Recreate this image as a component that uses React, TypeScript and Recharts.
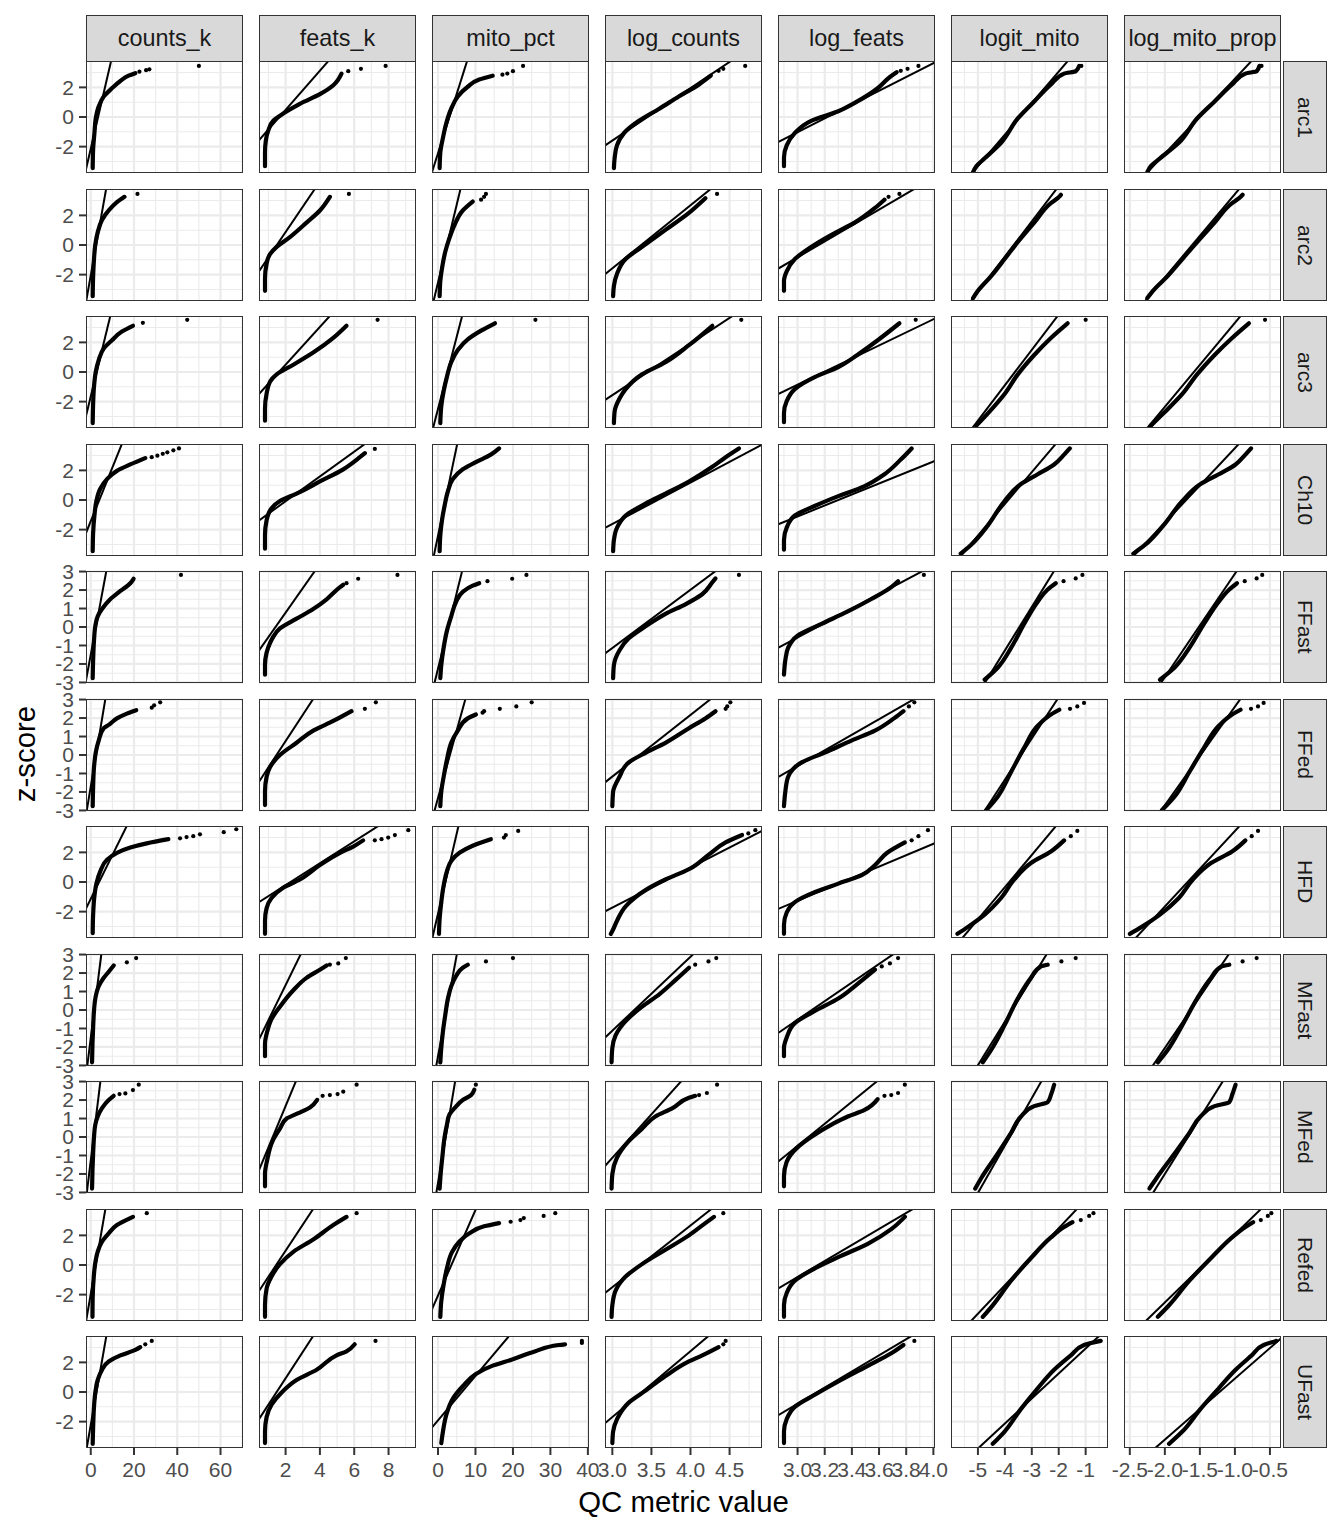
import React from "react";
import { ComposedChart, Line, Scatter, XAxis, YAxis, CartesianGrid } from "recharts";

type Pt = [number, number];
type Panel = { pts: Pt[]; out: Pt[]; qq: [number, number] };

const samples = ["arc1", "arc2", "arc3", "Ch10", "FFast", "FFed", "HFD", "MFast", "MFed", "Refed", "UFast"];
const metrics = ["counts_k", "feats_k", "mito_pct", "log_counts", "log_feats", "logit_mito", "log_mito_prop"];
// samples whose z axis is labelled -3..3 by 1
const narrowRows = ["FFast", "FFed", "MFast", "MFed"];

const zTicksWide = [-2, 0, 2];
const zMinorWide = [-3, -1, 1, 3];
const zDomainWide: [number, number] = [-3.78, 3.78];
const zTicksNarrow = [-3, -2, -1, 0, 1, 2, 3];
const zMinorNarrow = [-2.5, -1.5, -0.5, 0.5, 1.5, 2.5];
const zDomainNarrow: [number, number] = [-3.03, 3.03];

const countsKTicks = [0, 20, 40, 60];
const countsKMinor = [10, 30, 50, 70];
const featsKTicks = [2, 4, 6, 8];
const featsKMinor = [1, 3, 5, 7, 9];
const mitoPctTicks = [0, 10, 20, 30, 40];
const mitoPctMinor = [5, 15, 25, 35];
const logCountsTicks = [3, 3.5, 4, 4.5];
const logCountsMinor = [3.25, 3.75, 4.25, 4.75];
const logFeatsTicks = [3, 3.2, 3.4, 3.6, 3.8, 4];
const logFeatsMinor = [2.9, 3.1, 3.3, 3.5, 3.7, 3.9];
const logitMitoTicks = [-5, -4, -3, -2, -1];
const logitMitoMinor = [-5.5, -4.5, -3.5, -2.5, -1.5, -0.5];
const logMitoPropTicks = [-2.5, -2, -1.5, -1, -0.5];
const logMitoPropMinor = [-2.25, -1.75, -1.25, -0.75];

// one entry per sample, in the order of `samples`
const countsK: Panel[] = [
  { pts: [[0.9, -3.45], [1.1, -2.17], [1.7, -1.08], [2.3, -0.1], [3.7, 0.72], [6.0, 1.38], [9.8, 1.94], [13.7, 2.43], [17.5, 2.79], [20.6, 2.96]], out: [[22.5, 3.06], [25.6, 3.16], [27.1, 3.22], [50.0, 3.45]], qq: [-2.95, 9.75] },
  { pts: [[0.9, -3.45], [1.1, -2.1], [1.5, -0.95], [2.1, 0.03], [3.2, 0.85], [5.2, 1.68], [8.3, 2.33], [12.1, 2.89], [15.6, 3.25]], out: [[21.6, 3.45]], qq: [-2.37, 7.37] },
  { pts: [[0.9, -3.45], [1.1, -2.14], [1.5, -0.99], [2.3, 0.0], [3.7, 0.82], [6.0, 1.58], [9.8, 2.14], [14.4, 2.73], [19.5, 3.12]], out: [[24.1, 3.32], [44.6, 3.52]], qq: [-3.9, 9.4] },
  { pts: [[0.9, -3.45], [1.1, -2.2], [1.7, -1.05], [2.6, -0.07], [4.4, 0.76], [7.5, 1.41], [12.1, 1.97], [18.3, 2.4], [25.2, 2.83]], out: [[28.2, 2.89], [30.8, 2.99], [33.3, 3.12], [35.4, 3.22], [38.2, 3.35], [40.8, 3.48]], qq: [-7.1, 15.0] },
  { pts: [[0.9, -2.77], [1.1, -1.79], [1.5, -0.74], [2.1, 0.05], [3.2, 0.58], [5.2, 0.97], [9.0, 1.5], [13.7, 1.95], [18.3, 2.37], [19.8, 2.61]], out: [[41.7, 2.82]], qq: [-3.98, 8.74] },
  { pts: [[0.9, -2.77], [1.1, -1.71], [1.5, -0.66], [2.3, 0.13], [3.7, 0.79], [6.0, 1.45], [8.3, 1.63], [12.1, 1.98], [16.7, 2.24], [21.0, 2.42]], out: [[28.2, 2.56], [29.3, 2.69], [32.1, 2.85]], qq: [-3.27, 8.13] },
  { pts: [[0.9, -3.45], [1.1, -2.2], [1.7, -0.94], [2.6, -0.11], [4.4, 0.72], [7.5, 1.5], [12.1, 1.97], [18.3, 2.33], [25.9, 2.61], [35.9, 2.89]], out: [[41.3, 2.95], [44.3, 3.03], [47.4, 3.09], [50.5, 3.22], [61.5, 3.36], [67.3, 3.56]], qq: [-9.7, 17.4] },
  { pts: [[0.6, -2.83], [0.8, -1.83], [1.1, -0.94], [1.5, -0.04], [2.1, 0.62], [3.7, 1.29], [6.0, 1.74], [8.3, 2.07], [10.6, 2.41]], out: [[16.7, 2.58], [21.0, 2.81]], qq: [-2.66, 5.94] },
  { pts: [[0.6, -2.79], [0.8, -1.78], [1.1, -0.89], [1.5, 0.0], [2.1, 0.67], [3.2, 1.11], [5.2, 1.56], [8.3, 2.0], [10.6, 2.23]], out: [[13.3, 2.32], [16.0, 2.36], [19.5, 2.54], [22.2, 2.83]], qq: [-2.84, 5.48] },
  { pts: [[0.8, -3.5], [0.9, -2.17], [1.4, -0.78], [2.0, 0.06], [3.2, 0.89], [5.2, 1.58], [8.3, 2.14], [12.1, 2.7], [18.3, 3.17], [19.5, 3.25]], out: [[25.9, 3.5]], qq: [-2.41, 7.03] },
  { pts: [[0.9, -3.5], [1.1, -2.39], [1.5, -1.0], [2.1, -0.03], [3.2, 0.81], [5.2, 1.5], [8.3, 2.06], [13.7, 2.47], [20.6, 2.84], [22.9, 3.03]], out: [[25.2, 3.22], [28.2, 3.45]], qq: [-2.13, 7.47] },
];

const featsK: Panel[] = [
  { pts: [[0.8, -3.32], [0.8, -2.4], [0.85, -1.58], [0.99, -0.92], [1.28, -0.26], [1.86, 0.23], [2.83, 0.89], [4.0, 1.54], [4.78, 2.14], [5.05, 2.5], [5.26, 2.93]], out: [[5.65, 3.09], [6.39, 3.25], [7.83, 3.45]], qq: [-1.38, 4.66] },
  { pts: [[0.8, -3.09], [0.8, -2.27], [0.89, -1.28], [1.09, -0.62], [1.48, -0.13], [2.25, 0.53], [3.22, 1.51], [4.0, 2.33], [4.58, 3.25]], out: [[5.69, 3.45]], qq: [-0.85, 3.83] },
  { pts: [[0.8, -3.29], [0.8, -2.47], [0.89, -1.48], [1.09, -0.66], [1.48, -0.16], [2.45, 0.49], [3.61, 1.31], [4.78, 2.3], [5.55, 3.12]], out: [[7.36, 3.52]], qq: [-1.53, 4.75] },
  { pts: [[0.8, -3.29], [0.8, -2.37], [0.89, -1.38], [1.18, -0.56], [1.67, -0.07], [2.64, 0.43], [4.0, 1.25], [5.36, 2.07], [6.33, 2.89], [6.62, 3.16]], out: [[7.2, 3.45]], qq: [-2.68, 6.88] },
  { pts: [[0.8, -2.58], [0.8, -2.06], [0.89, -1.4], [1.09, -0.87], [1.3, -0.5], [1.67, -0.08], [2.64, 0.45], [3.61, 0.97], [4.39, 1.5], [5.17, 2.16], [5.36, 2.29]], out: [[5.55, 2.37], [6.23, 2.61], [8.52, 2.82]], qq: [-1.62, 4.44] },
  { pts: [[0.8, -2.71], [0.8, -1.98], [0.89, -1.19], [1.09, -0.66], [1.67, 0.0], [2.64, 0.66], [3.61, 1.32], [4.78, 1.84], [5.84, 2.37]], out: [[6.62, 2.5], [7.26, 2.85]], qq: [-1.35, 4.29] },
  { pts: [[0.8, -3.5], [0.8, -2.61], [0.89, -1.78], [1.18, -1.08], [1.86, -0.39], [2.83, 0.17], [4.0, 1.14], [5.17, 1.97], [5.94, 2.39], [6.52, 2.81]], out: [[7.2, 2.81], [7.59, 2.89], [7.98, 3.0], [8.37, 3.17], [9.15, 3.5]], qq: [-3.12, 7.7] },
  { pts: [[0.8, -2.5], [0.8, -1.83], [0.93, -1.16], [1.18, -0.49], [1.67, 0.18], [2.45, 1.07], [3.22, 1.74], [4.0, 2.18], [4.39, 2.41]], out: [[4.58, 2.45], [5.07, 2.52], [5.51, 2.81]], qq: [-0.82, 3.4] },
  { pts: [[0.8, -2.67], [0.8, -2.0], [0.93, -1.23], [1.24, -0.22], [1.67, 0.45], [2.06, 1.0], [2.74, 1.29], [3.42, 1.6], [3.84, 2.01]], out: [[4.16, 2.23], [4.58, 2.27], [5.03, 2.32], [5.36, 2.45], [6.14, 2.83]], qq: [-0.54, 3.04] },
  { pts: [[0.8, -3.5], [0.8, -2.72], [0.89, -1.61], [1.18, -0.78], [1.67, 0.06], [2.45, 0.89], [3.61, 1.72], [4.78, 2.7], [5.55, 3.25]], out: [[6.14, 3.5]], qq: [-0.83, 3.73] },
  { pts: [[0.8, -3.45], [0.8, -2.67], [0.89, -1.7], [1.18, -0.86], [1.77, -0.03], [2.64, 0.81], [3.81, 1.5], [4.97, 2.47], [5.55, 2.75], [6.03, 3.22]], out: [[7.24, 3.45]], qq: [-0.77, 3.73] },
];

const mitoPct: Panel[] = [
  { pts: [[0.44, -3.45], [0.62, -2.4], [1.32, -1.41], [2.2, -0.42], [3.53, 0.56], [5.29, 1.38], [7.94, 2.04], [11.0, 2.53], [14.6, 2.79]], out: [[17.2, 2.86], [18.5, 2.93], [20.0, 3.09], [22.7, 3.45]], qq: [-1.94, 8.04] },
  { pts: [[0.44, -3.45], [0.62, -2.43], [1.15, -1.45], [1.94, -0.46], [2.91, 0.36], [4.41, 1.35], [6.61, 2.33], [9.26, 2.93]], out: [[11.5, 3.06], [12.3, 3.25], [12.8, 3.45]], qq: [-1.39, 6.21] },
  { pts: [[0.62, -3.45], [0.88, -2.3], [1.5, -1.31], [2.38, -0.33], [3.53, 0.66], [5.29, 1.48], [7.94, 2.2], [11.5, 2.79], [15.2, 3.29]], out: [[26.0, 3.52]], qq: [-1.54, 6.66] },
  { pts: [[0.44, -3.45], [0.62, -2.37], [1.06, -1.38], [1.76, -0.39], [2.65, 0.59], [3.97, 1.41], [6.61, 2.07], [10.1, 2.56], [14.1, 3.06], [16.3, 3.48]], out: [], qq: [-1.31, 5.31] },
  { pts: [[0.62, -2.77], [0.88, -2.06], [1.5, -1.13], [2.38, -0.21], [3.53, 0.58], [4.85, 1.37], [6.61, 1.9], [9.26, 2.24], [11.0, 2.37]], out: [[13.2, 2.48], [19.8, 2.61], [23.6, 2.82]], qq: [-2.12, 7.62] },
  { pts: [[0.62, -2.77], [0.88, -1.98], [1.5, -1.19], [2.38, -0.26], [3.53, 0.66], [5.29, 1.32], [7.94, 1.98], [10.1, 2.19]], out: [[11.9, 2.29], [12.3, 2.37], [16.5, 2.5], [20.9, 2.63], [25.0, 2.85]], qq: [-2.28, 8.64] },
  { pts: [[0.26, -3.5], [0.44, -2.47], [0.88, -1.36], [1.5, -0.25], [2.38, 0.72], [3.53, 1.42], [5.73, 1.97], [9.26, 2.45], [14.1, 2.89]], out: [[17.6, 3.0], [18.1, 3.17], [21.4, 3.45]], qq: [-1.71, 5.67] },
  { pts: [[0.62, -2.83], [0.88, -2.05], [1.32, -1.16], [1.94, -0.27], [2.65, 0.62], [3.53, 1.29], [4.85, 1.85], [6.61, 2.29], [7.94, 2.45]], out: [[12.8, 2.63], [20.0, 2.81]], qq: [-1.36, 5.92] },
  { pts: [[0.44, -2.79], [0.71, -2.0], [1.15, -1.11], [1.76, 0.0], [2.38, 0.67], [3.09, 1.23], [4.41, 1.56], [6.61, 2.0], [8.82, 2.27], [9.7, 2.56]], out: [[10.1, 2.83]], qq: [-1.26, 5.4] },
  { pts: [[0.62, -3.5], [0.88, -2.44], [1.5, -1.33], [2.38, -0.22], [3.79, 0.89], [5.73, 1.58], [8.38, 2.14], [12.3, 2.61], [16.3, 2.83]], out: [[19.4, 2.92], [22.0, 3.03], [22.9, 3.17], [28.2, 3.31], [31.3, 3.5]], qq: [-3.34, 10.5] },
  { pts: [[0.88, -3.45], [1.32, -2.67], [2.2, -1.56], [3.97, -0.44], [6.61, 0.39], [10.1, 1.22], [14.6, 1.78], [19.8, 2.2], [26.0, 2.75], [32.2, 3.17], [33.9, 3.22]], out: [[38.4, 3.31], [38.4, 3.45]], qq: [-6.96, 19.7] },
];

const logCounts: Panel[] = [
  { pts: [[3.02, -3.45], [3.03, -2.73], [3.06, -1.91], [3.15, -1.08], [3.34, -0.26], [3.6, 0.56], [3.85, 1.38], [4.11, 2.2], [4.26, 2.79]], out: [[4.36, 3.12], [4.42, 3.25], [4.7, 3.45]], qq: [2.32, 4.58] },
  { pts: [[3.01, -3.45], [3.02, -2.76], [3.06, -1.94], [3.17, -0.95], [3.38, -0.13], [3.68, 1.02], [3.98, 2.17], [4.19, 3.16]], out: [[4.34, 3.45]], qq: [2.43, 4.31] },
  { pts: [[3.02, -3.45], [3.03, -2.63], [3.09, -1.81], [3.17, -1.15], [3.38, -0.16], [3.68, 0.66], [3.98, 1.81], [4.28, 3.12]], out: [[4.65, 3.52]], qq: [2.3, 4.6] },
  { pts: [[3.01, -3.45], [3.02, -2.7], [3.06, -1.87], [3.17, -1.05], [3.43, -0.23], [3.68, 0.43], [3.98, 1.25], [4.28, 2.24], [4.45, 2.89], [4.62, 3.48]], out: [], qq: [2.15, 5.01] },
  { pts: [[3.01, -2.77], [3.02, -2.06], [3.09, -1.27], [3.21, -0.61], [3.43, 0.05], [3.68, 0.71], [3.94, 1.24], [4.15, 1.77], [4.28, 2.42], [4.32, 2.63]], out: [[4.62, 2.82]], qq: [2.09, 4.63] },
  { pts: [[3.0, -2.77], [3.01, -1.98], [3.09, -1.19], [3.21, -0.4], [3.43, 0.13], [3.68, 0.66], [3.98, 1.45], [4.19, 1.98], [4.32, 2.37]], out: [[4.45, 2.5], [4.47, 2.63], [4.51, 2.85]], qq: [2.15, 4.55] },
  { pts: [[2.98, -3.5], [3.0, -3.31], [3.06, -2.61], [3.17, -1.64], [3.43, -0.53], [3.68, 0.17], [3.98, 0.86], [4.23, 1.83], [4.45, 2.67], [4.66, 3.17]], out: [[4.74, 3.28], [4.83, 3.5]], qq: [2.16, 5.12] },
  { pts: [[2.99, -2.83], [3.0, -2.05], [3.04, -1.38], [3.17, -0.6], [3.38, 0.18], [3.6, 0.85], [3.81, 1.63], [3.98, 2.29]], out: [[4.06, 2.45], [4.23, 2.63], [4.33, 2.81]], qq: [2.28, 4.28] },
  { pts: [[2.99, -2.79], [3.0, -2.0], [3.06, -1.11], [3.21, -0.22], [3.38, 0.45], [3.55, 1.11], [3.77, 1.56], [3.98, 2.12], [4.06, 2.23]], out: [[4.11, 2.27], [4.21, 2.38], [4.34, 2.83]], qq: [2.39, 4.09] },
  { pts: [[2.99, -3.5], [3.0, -2.72], [3.04, -1.75], [3.17, -0.78], [3.38, 0.06], [3.68, 1.03], [3.98, 2.0], [4.19, 2.83], [4.3, 3.25]], out: [[4.42, 3.5]], qq: [2.4, 4.32] },
  { pts: [[3.0, -3.45], [3.01, -2.67], [3.06, -1.83], [3.21, -0.72], [3.43, 0.11], [3.68, 1.08], [3.98, 2.06], [4.15, 2.47], [4.36, 3.03]], out: [[4.42, 3.22], [4.45, 3.45]], qq: [2.48, 4.28] },
];

const logFeats: Panel[] = [
  { pts: [[2.9, -3.32], [2.9, -2.73], [2.92, -1.91], [2.98, -1.08], [3.1, -0.26], [3.3, 0.39], [3.44, 1.05], [3.59, 1.94], [3.68, 2.7], [3.73, 3.02]], out: [[3.76, 3.12], [3.81, 3.25], [3.89, 3.45]], qq: [2.36, 4.08] },
  { pts: [[2.9, -3.09], [2.9, -2.43], [2.92, -1.78], [2.98, -0.95], [3.1, -0.13], [3.25, 0.69], [3.42, 1.51], [3.57, 2.5], [3.64, 3.06]], out: [[3.67, 3.25], [3.75, 3.45]], qq: [2.41, 3.9] },
  { pts: [[2.9, -3.39], [2.9, -2.79], [2.92, -1.97], [2.98, -1.15], [3.13, -0.33], [3.3, 0.33], [3.44, 1.15], [3.59, 2.14], [3.75, 3.29]], out: [[3.87, 3.52]], qq: [2.29, 4.1] },
  { pts: [[2.9, -3.35], [2.9, -2.7], [2.92, -1.87], [2.98, -1.05], [3.13, -0.39], [3.3, 0.26], [3.49, 0.92], [3.64, 1.74], [3.76, 2.73], [3.84, 3.48]], out: [], qq: [2.22, 4.38] },
  { pts: [[2.9, -2.58], [2.91, -1.79], [2.93, -1.13], [3.0, -0.47], [3.18, 0.18], [3.37, 0.84], [3.54, 1.5], [3.69, 2.16], [3.74, 2.48]], out: [[3.93, 2.82]], qq: [2.12, 4.17] },
  { pts: [[2.9, -2.77], [2.91, -1.98], [2.93, -1.19], [3.03, -0.4], [3.2, 0.13], [3.4, 0.79], [3.57, 1.32], [3.71, 1.98], [3.78, 2.37]], out: [[3.82, 2.63], [3.86, 2.85]], qq: [2.19, 4.09] },
  { pts: [[2.9, -3.5], [2.9, -2.89], [2.92, -2.06], [2.98, -1.36], [3.13, -0.67], [3.3, -0.11], [3.47, 0.45], [3.57, 1.14], [3.66, 1.97], [3.79, 2.67]], out: [[3.84, 2.81], [3.89, 3.09], [3.96, 3.5]], qq: [2.29, 4.37] },
  { pts: [[2.9, -2.5], [2.9, -2.05], [2.92, -1.49], [2.98, -0.71], [3.13, -0.04], [3.3, 0.62], [3.44, 1.4], [3.57, 2.18]], out: [[3.62, 2.36], [3.68, 2.52], [3.74, 2.81]], qq: [2.31, 3.9] },
  { pts: [[2.9, -2.67], [2.9, -2.12], [2.92, -1.34], [3.0, -0.56], [3.1, 0.0], [3.25, 0.67], [3.37, 1.11], [3.49, 1.45], [3.59, 2.05]], out: [[3.64, 2.23], [3.69, 2.27], [3.74, 2.38], [3.79, 2.83]], qq: [2.41, 3.75] },
  { pts: [[2.9, -3.5], [2.9, -2.72], [2.92, -1.89], [2.98, -1.06], [3.13, -0.22], [3.32, 0.61], [3.52, 1.45], [3.69, 2.42], [3.79, 3.25]], out: [], qq: [2.41, 3.89] },
  { pts: [[2.9, -3.45], [2.9, -2.67], [2.92, -1.83], [2.98, -1.0], [3.13, -0.17], [3.32, 0.81], [3.52, 1.78], [3.69, 2.61], [3.78, 3.17]], out: [[3.86, 3.45]], qq: [2.41, 3.88] },
];

const logitMito: Panel[] = [
  { pts: [[-5.18, -3.72], [-5.06, -3.32], [-4.75, -2.79], [-4.14, -1.74], [-3.52, -0.1], [-2.91, 1.05], [-2.29, 2.2], [-1.8, 2.93], [-1.37, 3.09], [-1.24, 3.45]], out: [[-1.16, 3.45]], qq: [-5.32, -1.56] },
  { pts: [[-5.18, -3.58], [-5.0, -3.09], [-4.51, -2.1], [-4.01, -0.95], [-3.52, 0.2], [-2.91, 1.51], [-2.29, 2.83], [-2.04, 3.16], [-1.92, 3.39]], out: [], qq: [-5.35, -1.99] },
  { pts: [[-5.06, -3.62], [-4.63, -2.79], [-4.01, -1.48], [-3.52, -0.16], [-2.91, 1.15], [-2.29, 2.3], [-1.67, 3.29]], out: [[-1.0, 3.52]], qq: [-5.3, -1.95] },
  { pts: [[-5.64, -3.62], [-5.25, -3.02], [-4.63, -1.71], [-4.01, -0.07], [-3.4, 1.08], [-2.78, 1.74], [-2.17, 2.4], [-1.8, 3.06], [-1.59, 3.48]], out: [], qq: [-5.74, -2.01] },
  { pts: [[-4.75, -2.85], [-4.26, -2.19], [-3.77, -1.13], [-3.28, 0.18], [-2.78, 1.37], [-2.41, 2.03], [-2.11, 2.37]], out: [[-1.82, 2.48], [-1.37, 2.63], [-1.12, 2.82]], qq: [-5.16, -1.76] },
  { pts: [[-4.69, -2.98], [-4.26, -2.24], [-3.77, -0.92], [-3.28, 0.4], [-2.78, 1.58], [-2.29, 2.19], [-1.98, 2.45]], out: [[-1.58, 2.5], [-1.31, 2.63], [-1.06, 2.82]], qq: [-5.19, -1.61] },
  { pts: [[-5.76, -3.5], [-5.37, -3.03], [-4.75, -2.2], [-4.14, -1.08], [-3.65, 0.17], [-3.03, 1.28], [-2.29, 2.06], [-1.8, 2.81]], out: [[-1.55, 3.09], [-1.31, 3.45]], qq: [-5.68, -2.0] },
  { pts: [[-4.82, -2.83], [-4.51, -2.16], [-4.01, -0.82], [-3.52, 0.62], [-3.03, 1.74], [-2.66, 2.36], [-2.41, 2.45]], out: [[-1.9, 2.63], [-1.37, 2.81]], qq: [-5.43, -2.03] },
  { pts: [[-5.1, -2.79], [-4.88, -2.23], [-4.26, -0.89], [-3.77, 0.22], [-3.4, 1.11], [-2.91, 1.67], [-2.41, 1.89], [-2.29, 2.27], [-2.17, 2.83]], out: [], qq: [-5.38, -2.26] },
  { pts: [[-4.82, -3.5], [-4.45, -2.72], [-3.77, -1.06], [-3.03, 0.47], [-2.29, 1.86], [-1.8, 2.56], [-1.49, 2.89]], out: [[-1.18, 3.03], [-0.87, 3.31], [-0.71, 3.5]], qq: [-5.37, -1.21] },
  { pts: [[-4.45, -3.5], [-4.01, -2.67], [-3.4, -1.14], [-2.78, 0.25], [-2.17, 1.5], [-1.55, 2.47], [-1.06, 3.17], [-0.44, 3.45]], out: [], qq: [-5.11, -0.37] },
];

const logMitoProp: Panel[] = [
  { pts: [[-2.25, -3.72], [-2.2, -3.32], [-2.07, -2.79], [-1.8, -1.74], [-1.54, -0.1], [-1.29, 1.05], [-1.04, 2.2], [-0.85, 2.93], [-0.69, 3.09], [-0.65, 3.45]], out: [[-0.62, 3.45]], qq: [-2.3, -0.72] },
  { pts: [[-2.25, -3.58], [-2.17, -3.09], [-1.96, -2.1], [-1.75, -0.95], [-1.54, 0.2], [-1.29, 1.51], [-1.04, 2.83], [-0.94, 3.16], [-0.89, 3.39]], out: [], qq: [-2.32, -0.9] },
  { pts: [[-2.2, -3.62], [-2.02, -2.79], [-1.75, -1.48], [-1.54, -0.16], [-1.29, 1.15], [-1.04, 2.3], [-0.8, 3.29]], out: [[-0.57, 3.52]], qq: [-2.29, -0.88] },
  { pts: [[-2.45, -3.62], [-2.28, -3.02], [-2.02, -1.71], [-1.75, -0.07], [-1.49, 1.08], [-1.23, 1.74], [-0.99, 2.4], [-0.85, 3.06], [-0.77, 3.48]], out: [], qq: [-2.49, -0.9] },
  { pts: [[-2.07, -2.85], [-1.86, -2.19], [-1.65, -1.13], [-1.44, 0.18], [-1.23, 1.37], [-1.08, 2.03], [-0.97, 2.37]], out: [[-0.86, 2.48], [-0.69, 2.63], [-0.61, 2.82]], qq: [-2.23, -0.8] },
  { pts: [[-2.04, -2.98], [-1.86, -2.24], [-1.65, -0.92], [-1.44, 0.4], [-1.23, 1.58], [-1.04, 2.19], [-0.92, 2.45]], out: [[-0.77, 2.5], [-0.67, 2.63], [-0.59, 2.82]], qq: [-2.24, -0.74] },
  { pts: [[-2.5, -3.5], [-2.33, -3.03], [-2.07, -2.2], [-1.8, -1.08], [-1.6, 0.17], [-1.34, 1.28], [-1.04, 2.06], [-0.85, 2.81]], out: [[-0.76, 3.09], [-0.67, 3.45]], qq: [-2.46, -0.89] },
  { pts: [[-2.1, -2.83], [-1.96, -2.16], [-1.75, -0.82], [-1.54, 0.62], [-1.34, 1.74], [-1.19, 2.36], [-1.08, 2.45]], out: [[-0.89, 2.63], [-0.69, 2.81]], qq: [-2.35, -0.91] },
  { pts: [[-2.22, -2.79], [-2.12, -2.23], [-1.86, -0.89], [-1.65, 0.22], [-1.49, 1.11], [-1.29, 1.67], [-1.08, 1.89], [-1.04, 2.27], [-0.99, 2.83]], out: [], qq: [-2.33, -1.01] },
  { pts: [[-2.1, -3.5], [-1.94, -2.72], [-1.65, -1.06], [-1.34, 0.47], [-1.04, 1.86], [-0.85, 2.56], [-0.74, 2.89]], out: [[-0.63, 3.03], [-0.53, 3.31], [-0.48, 3.5]], qq: [-2.32, -0.58] },
  { pts: [[-1.94, -3.5], [-1.75, -2.67], [-1.49, -1.14], [-1.23, 0.25], [-0.99, 1.5], [-0.76, 2.47], [-0.59, 3.17], [-0.41, 3.45]], out: [], qq: [-2.19, -0.25] },
];

const columns = [
  { ticks: countsKTicks, minor: countsKMinor, domain: [-2.2, 70.4], digits: 0, panels: countsK },
  { ticks: featsKTicks, minor: featsKMinor, domain: [0.45, 9.6], digits: 0, panels: featsK },
  { ticks: mitoPctTicks, minor: mitoPctMinor, domain: [-1.6, 40.3], digits: 0, panels: mitoPct },
  { ticks: logCountsTicks, minor: logCountsMinor, domain: [2.906, 4.915], digits: 1, panels: logCounts },
  { ticks: logFeatsTicks, minor: logFeatsMinor, domain: [2.856, 4.012], digits: 1, panels: logFeats },
  { ticks: logitMitoTicks, minor: logitMitoMinor, domain: [-6.0, -0.17], digits: 0, panels: logitMito },
  { ticks: logMitoPropTicks, minor: logMitoPropMinor, domain: [-2.583, -0.342], digits: 1, panels: logMitoProp },
];

const FONT = '"Liberation Sans", Arial, Helvetica, sans-serif';
const PW = 157;
const PH = 112;
const YW = 78;
const XH = 40;
const colLeft = (c: number) => 86 + 173 * c;
const rowTop = (r: number) => 61 + Math.round(127.5 * r);
const tickStyle = { fill: "#4D4D4D", fontSize: 21, fontFamily: FONT };
const tickLineStyle = { stroke: "#333333", strokeWidth: 2 };

function Dot(props: any) {
  return <circle cx={props.cx} cy={props.cy} r={2.1} fill="#000" />;
}

function FacetPanel({ r, c }: { r: number; c: number }) {
  const col = columns[c];
  const panel = col.panels[r];
  const narrow = narrowRows.includes(samples[r]);
  const yTicks = narrow ? zTicksNarrow : zTicksWide;
  const yMinor = narrow ? zMinorNarrow : zMinorWide;
  const yDomain = narrow ? zDomainNarrow : zDomainWide;
  const showY = c === 0;
  const showX = r === samples.length - 1;
  const w = PW + (showY ? YW : 0);
  const h = PH + (showX ? XH : 0);
  const curve = panel.pts.map(([x, z]) => ({ x, z }));
  const outliers = panel.out.map(([x, z]) => ({ x, z }));
  const qqLine = [
    { x: panel.qq[0], z: -4 },
    { x: panel.qq[1], z: 4 },
  ];
  return (
    <>
      <div style={{ position: "absolute", left: colLeft(c) - (showY ? YW : 0), top: rowTop(r) }}>
        <ComposedChart width={w} height={h} margin={{ top: 0, right: 0, bottom: 0, left: 0 }}>
          <CartesianGrid verticalValues={col.minor} horizontalValues={yMinor} stroke="#EBEBEB" strokeWidth={1.1} />
          <CartesianGrid verticalValues={col.ticks} horizontalValues={yTicks} stroke="#EBEBEB" strokeWidth={2.2} />
          <XAxis
            type="number"
            dataKey="x"
            domain={col.domain}
            allowDataOverflow
            ticks={col.ticks}
            interval={0}
            hide={!showX}
            height={XH}
            axisLine={false}
            tickSize={7}
            tickMargin={7}
            tickLine={tickLineStyle}
            tick={tickStyle}
            tickFormatter={(v: number) => v.toFixed(col.digits)}
          />
          <YAxis
            type="number"
            dataKey="z"
            domain={yDomain}
            allowDataOverflow
            ticks={yTicks}
            interval={0}
            hide={!showY}
            width={YW}
            axisLine={false}
            tickSize={7}
            tickMargin={5}
            tickLine={tickLineStyle}
            tick={tickStyle}
          />
          <Line
            data={curve}
            dataKey="z"
            type="monotoneY"
            stroke="#000"
            strokeWidth={4.2}
            strokeLinecap="round"
            strokeLinejoin="round"
            dot={false}
            isAnimationActive={false}
          />
          <Scatter data={outliers} dataKey="z" shape={<Dot />} isAnimationActive={false} />
          <Line data={qqLine} dataKey="z" type="linear" stroke="#000" strokeWidth={2} dot={false} isAnimationActive={false} />
        </ComposedChart>
      </div>
      <div
        style={{
          position: "absolute",
          left: colLeft(c),
          top: rowTop(r),
          width: PW,
          height: PH,
          border: "1.5px solid #333333",
          boxSizing: "border-box",
          pointerEvents: "none",
        }}
      />
    </>
  );
}

export default function App() {
  const stripBase = {
    position: "absolute" as const,
    background: "#D9D9D9",
    border: "1.5px solid #333333",
    boxSizing: "border-box" as const,
    display: "flex",
    alignItems: "center",
    justifyContent: "center",
    color: "#1A1A1A",
    fontFamily: FONT,
    whiteSpace: "nowrap" as const,
  };
  return (
    <div style={{ position: "absolute", left: 0, top: 0, width: 1344, height: 1536, background: "#fff", fontFamily: FONT }}>
      <style>{".recharts-surface{overflow:visible}"}</style>
      {metrics.map((m, c) => (
        <div key={m} style={{ ...stripBase, left: colLeft(c), top: 15, width: PW, height: 47, fontSize: 23.4 }}>
          {m}
        </div>
      ))}
      {samples.map((s, r) => (
        <div key={s} style={{ ...stripBase, left: 1283, top: rowTop(r), width: 44, height: PH, fontSize: 21 }}>
          <span style={{ writingMode: "vertical-rl" }}>{s}</span>
        </div>
      ))}
      {samples.map((s, r) => metrics.map((m, c) => <FacetPanel key={s + m} r={r} c={c} />))}
      <div
        style={{
          position: "absolute",
          left: 86,
          width: 1195,
          top: 1485,
          textAlign: "center",
          fontSize: 29.4,
          color: "#000",
        }}
      >
        QC metric value
      </div>
      <div
        style={{
          position: "absolute",
          left: 25 - 100,
          top: 754 - 17,
          width: 200,
          height: 34,
          lineHeight: "34px",
          textAlign: "center",
          fontSize: 29.4,
          color: "#000",
          transform: "rotate(-90deg)",
        }}
      >
        z-score
      </div>
    </div>
  );
}
